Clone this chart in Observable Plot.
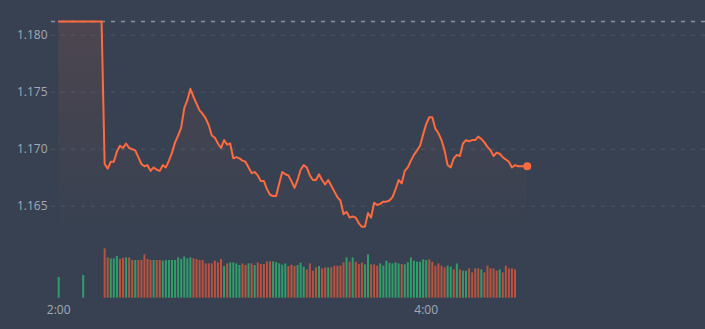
<!DOCTYPE html>
<html><head><meta charset="utf-8">
<script src="https://cdn.jsdelivr.net/npm/d3@7"></script>
<script src="https://cdn.jsdelivr.net/npm/@observablehq/plot@0.6"></script>
<style>
html,body{margin:0;padding:0;background:#374151;}
#chart{position:relative;width:705px;height:329px;overflow:hidden;background:#374151;}
#chart svg{position:absolute;left:0;top:0;}
</style></head><body><div id="chart"></div>
<script>
// ---- data ----
const prevClose = 1.1812;
const yTicks = [1.165, 1.170, 1.175, 1.180];
const xTickMinutes = [0, 120];           // 2:00, 4:00
const priceStartMinute = 0;             // minutes after 2:00
const prices = [
  1.1812,1.1812,1.1812,1.1812,1.1812,1.1812,1.1812,1.1812,1.1812,1.1812,1.1812,1.1812,1.1812,1.1812,1.1812,
  1.1687,1.1683,1.1689,1.1689,1.1698,1.1703,1.1701,1.1705,1.1701,1.1700,
  1.1699,1.1693,1.1687,1.1685,1.1686,1.1681,1.1684,1.1682,1.1681,1.1686,
  1.1684,1.1690,1.1697,1.1706,1.1712,1.1719,1.1736,1.1743,1.1753,1.1746,
  1.1740,1.1734,1.1731,1.1727,1.1721,1.1712,1.1710,1.1705,1.1701,1.1708,
  1.1704,1.1705,1.1692,1.1693,1.1692,1.1690,1.1689,1.1684,1.1679,1.1680,
  1.1677,1.1672,1.1672,1.1665,1.1660,1.1659,1.1659,1.1670,1.1680,1.1678,
  1.1677,1.1672,1.1666,1.1673,1.1682,1.1686,1.1684,1.1677,1.1673,1.1673,
  1.1678,1.1673,1.1669,1.1673,1.1668,1.1663,1.1658,1.1655,1.1643,1.1645,
  1.1640,1.1641,1.1640,1.1635,1.1632,1.1632,1.1644,1.1640,1.1653,1.1651,
  1.1652,1.1654,1.1654,1.1655,1.1658,1.1665,1.1673,1.1670,1.1681,1.1684,
  1.1690,1.1695,1.1699,1.1703,1.1713,1.1722,1.1728,1.1728,1.1718,1.1714,
  1.1708,1.1699,1.1686,1.1684,1.1692,1.1695,1.1694,1.1705,1.1708,1.1707,
  1.1708,1.1708,1.1711,1.1709,1.1706,1.1702,1.1699,1.1694,1.1697,1.1696,
  1.1693,1.1691,1.1689,1.1684,1.1686,1.1685,1.1685,1.1685,1.1685
];
const earlyVolMinutes = [0, 8];
const earlyVolumes = [20.7, 22.7];
const earlyVolDirs = ["G", "G"];
const volStartMinute = 15;
const volumes = [
  49.3,40.3,39.3,39.3,41.7,38.7,40.0,40.3,40.3,37.7,
  37.7,37.7,37.7,43.3,38.7,37.7,37.7,37.7,37.7,37.0,
  37.7,37.7,37.7,37.7,40.3,38.7,41.3,39.3,40.3,39.3,
  38.7,37.7,37.7,34.3,34.3,34.3,37.0,35.3,38.7,31.7,
  34.3,35.3,35.3,34.3,32.7,34.3,32.7,34.3,34.3,32.7,
  35.3,33.7,33.7,36.3,36.3,36.3,35.7,34.3,33.0,34.3,
  31.7,33.0,31.7,32.7,35.0,31.0,
  28.3,34.3,27.0,30.3,31.7,29.3,30.3,30.3,30.3,32.0,
  32.0,32.0,35.3,40.3,36.0,40.3,36.0,33.7,35.0,33.3,
  43.3,33.3,33.3,32.0,34.3,32.0,37.0,35.0,34.3,35.3,
  34.3,33.7,33.3,35.3,40.3,37.0,36.0,36.0,38.3,37.7,
  38.3,36.0,32.0,34.3,32.0,30.3,32.0,31.0,28.3,34.3,
  28.3,27.0,27.0,29.3,25.3,29.3,29.3,28.3,25.3,32.0,
  29.3,29.3,27.0,28.3,25.3,32.0,29.3,29.3,28.3
];
const volDirs = (
  "RRGGGRRGRR" + "GRRRRRGRRG" + "GGGGGGGGGR" + "RRRRRRRRRG" + "RGGGGRRGRG" + "RRRRRGGGGG" + "RRRGGG" +
  "RRRRGRRGRR" + "RRRGRGRRRG" + "GRRRGGGGGG" + "GRGGGGGGGG" + "RRRRRRGGRG" + "RGGRRRRGRR" + "RRRGRRRRR"
).split("");

// ---- build tables ----
const t = m => new Date(2024, 0, 2, 2, m);
const priceData = prices.map((p, i) => ({time: t(priceStartMinute + i), price: p}));
const volData = [
  ...earlyVolMinutes.map((m, i) => ({time: t(m), vol: earlyVolumes[i], dir: earlyVolDirs[i]})),
  ...volumes.map((v, i) => ({time: t(volStartMinute + i), vol: v, dir: volDirs[i]}))
];
const last = priceData[priceData.length - 1];

const LINE = "#ff6a3f", GREEN = "#2f9e6b", RED = "#b9533f";
const xScale = {type: "time", domain: [t(0), t(120)], range: [58.2, 425.7], label: null};
const chart = document.getElementById("chart");

const volPlot = Plot.plot({
  width: 705, height: 329, margin: 0,
  x: {...xScale, axis: null},
  y: {domain: [0, 50], range: [297.7, 247.7], axis: null, label: null},
  color: {type: "identity"},
  style: {background: "transparent"},
  marks: [
    Plot.ruleX(volData, {x: "time", y1: 0, y2: "vol", stroke: d => d.dir === "G" ? GREEN : RED, strokeWidth: 2})
  ]
});
chart.appendChild(volPlot);

const pricePlot = Plot.plot({
  width: 705, height: 329,
  marginLeft: 51, marginRight: 0, marginTop: 0, marginBottom: 31,
  x: xScale,
  y: {domain: [1.165, 1.180], range: [205.7, 34.7], label: null},
  style: {background: "transparent", fontFamily: "'Open Sans', sans-serif", fontSize: "12px"},
  marks: [
    Plot.ruleY(yTicks, {stroke: "#4d5769", strokeWidth: 1, strokeDasharray: "4,6"}),
    Plot.ruleY([prevClose], {stroke: "#8a93a2", strokeWidth: 1.5, strokeDasharray: "4,6"}),
    Plot.areaY(priceData, {x: "time", y1: 1.162, y2: "price", fill: "url(#priceFade)"}),
    Plot.line(priceData, {x: "time", y: "price", stroke: LINE, strokeWidth: 2}),
    Plot.dot([last], {x: "time", y: "price", r: 4, fill: LINE}),
    Plot.axisY({ticks: yTicks, tickSize: 0, tickPadding: 4, tickFormat: d3.format(".3f"), color: "#a3aab6", label: null}),
    Plot.axisX({ticks: xTickMinutes.map(t), tickSize: 0, tickPadding: 7, tickFormat: d3.timeFormat("%-H:%M"), color: "#a3aab6", label: null})
  ]
});
const defs = d3.select(pricePlot).insert("defs", ":first-child");
const g = defs.append("linearGradient").attr("id", "priceFade")
  .attr("gradientUnits", "userSpaceOnUse").attr("x1", 0).attr("y1", 20).attr("x2", 0).attr("y2", 235);
g.append("stop").attr("offset", 0).attr("stop-color", LINE).attr("stop-opacity", 0.11);
g.append("stop").attr("offset", 1).attr("stop-color", LINE).attr("stop-opacity", 0);
chart.appendChild(pricePlot);
</script></body></html>
